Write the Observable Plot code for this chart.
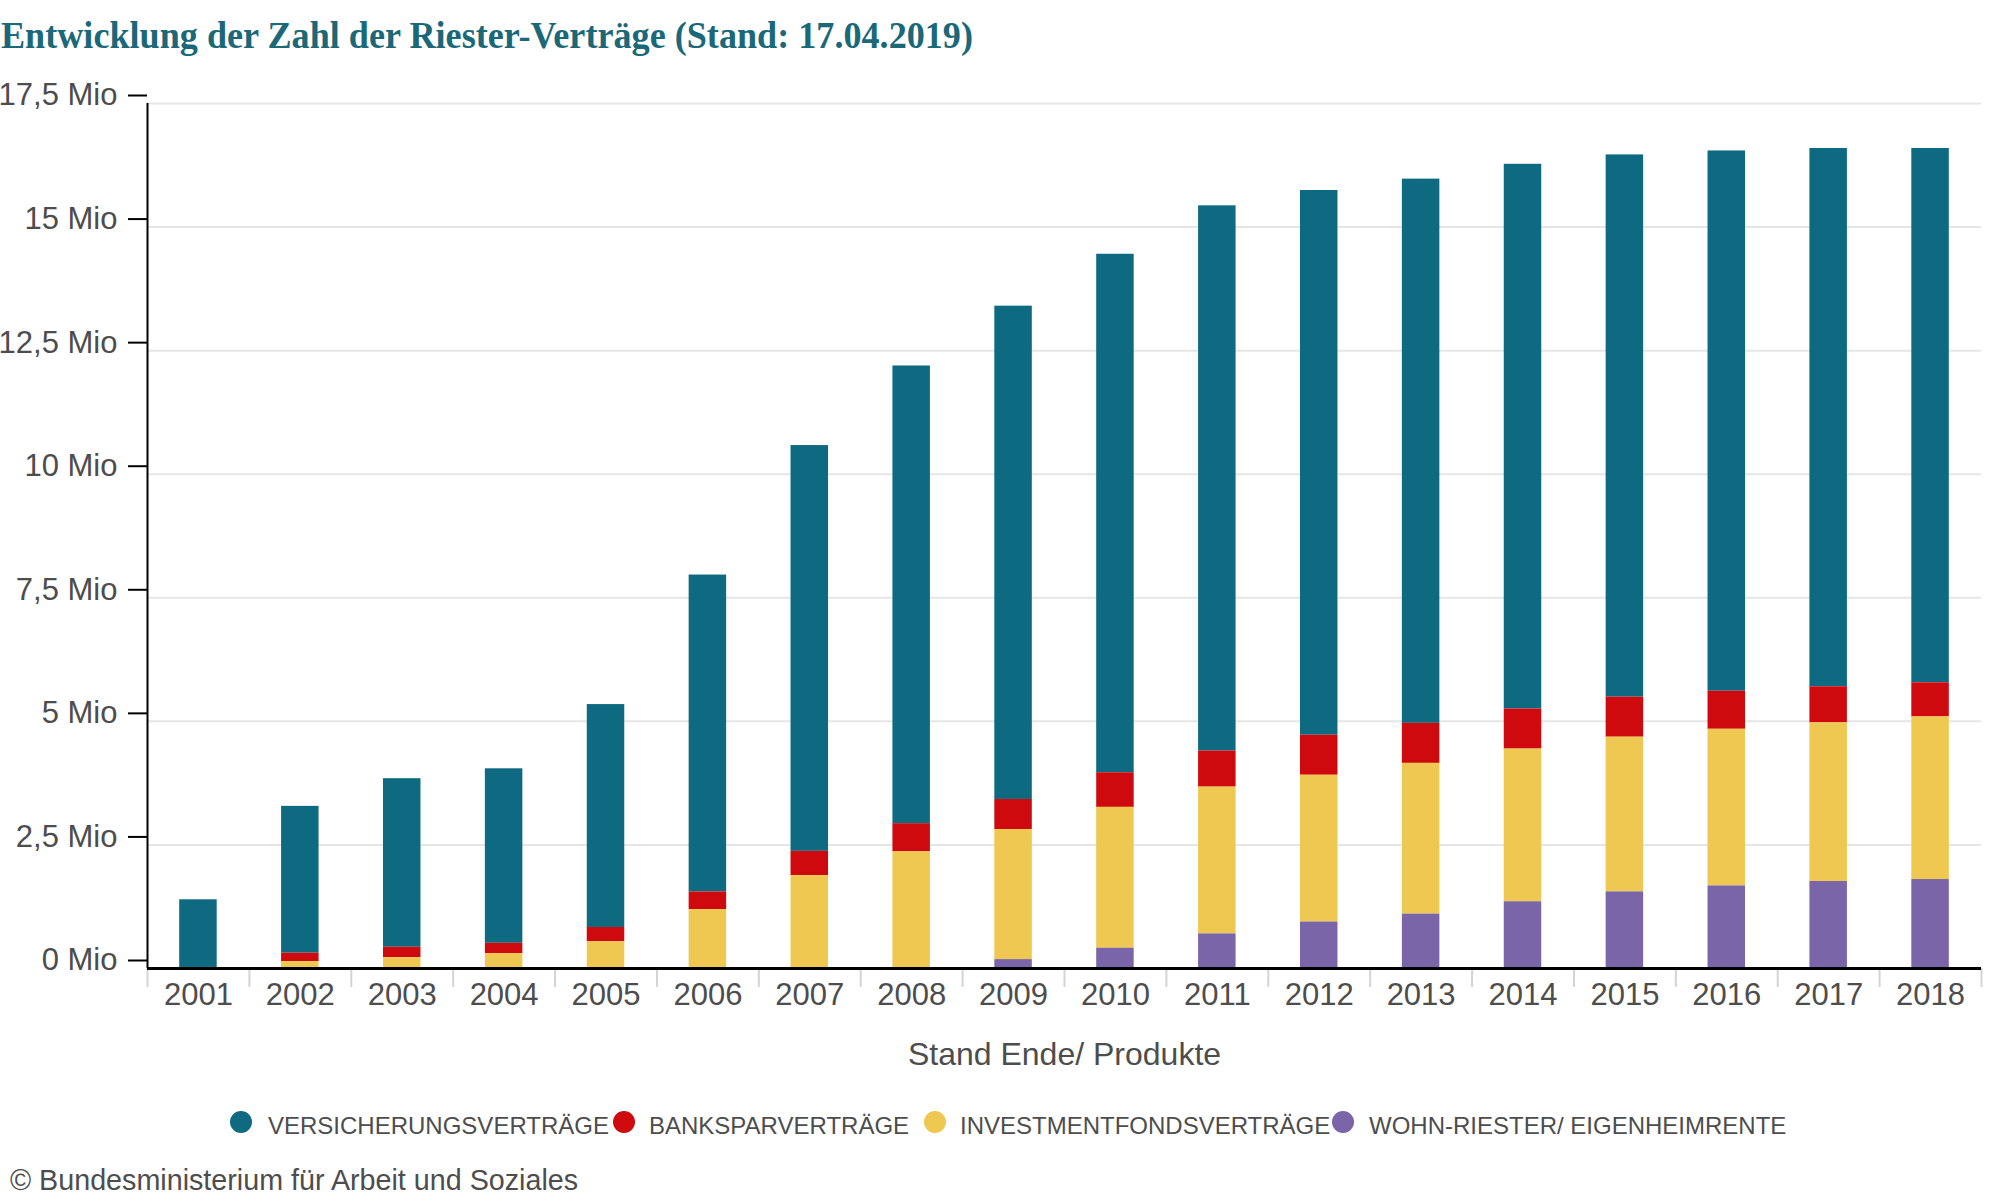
<!DOCTYPE html>
<html>
<head>
<meta charset="utf-8">
<script src="https://cdn.jsdelivr.net/npm/d3@7"></script>
<script src="https://cdn.jsdelivr.net/npm/@observablehq/plot@0.6"></script>
<style>
  body { margin: 0; background: #fff; }
  #wrap { position: relative; width: 2000px; height: 1200px; overflow: hidden; font-family: "Liberation Sans", Arial, sans-serif; color: #4d4d4d; }
  #title { position: absolute; left: 1px; top: 17px; font-family: "Liberation Serif", "Times New Roman", serif; font-weight: bold; font-size: 37px; line-height: 1; color: #1a6878; white-space: nowrap; transform-origin: left top; }
  #chart { position: absolute; left: 0; top: 0; }
  .lg { position: absolute; top: 1112px; height: 28px; display: flex; align-items: center; font-size: 24px; line-height: 28px; white-space: nowrap; }
  .lg .dot { width: 22px; height: 22px; border-radius: 50%; position: absolute; top: -1px; }
  .lg .txt { position: absolute; top: 0; }
  #caption { position: absolute; left: 10px; top: 1166px; font-size: 28.7px; line-height: 1; white-space: nowrap; }
</style>
</head>
<body>
<div id="wrap">
  <div id="chart"></div>
  <div id="title"></div>
  <div id="legend"></div>
  <div id="caption"></div>
</div>
<script>
// ---- data (Mio. Verträge) ----
const years = ["2001","2002","2003","2004","2005","2006","2007","2008","2009","2010","2011","2012","2013","2014","2015","2016","2017","2018"];
const seriesNames = ["VERSICHERUNGSVERTRÄGE", "BANKSPARVERTRÄGE", "INVESTMENTFONDSVERTRÄGE", "WOHN-RIESTER/ EIGENHEIMRENTE"];
const seriesColors = ["#0e6a80", "#cf0a0e", "#eec850", "#7a65a8"];
const versicherung = [1.39, 2.97, 3.41, 3.53, 4.51, 6.41, 8.21, 9.26, 9.98, 10.49, 11.03, 11.02, 11.01, 11.02, 10.97, 10.93, 10.89, 10.81];
const bankspar     = [0, 0.17, 0.21, 0.21, 0.29, 0.36, 0.49, 0.57, 0.61, 0.70, 0.73, 0.81, 0.81, 0.81, 0.81, 0.77, 0.73, 0.69];
const investment   = [0, 0.14, 0.22, 0.30, 0.54, 1.19, 1.88, 2.35, 2.63, 2.85, 2.97, 2.97, 3.05, 3.09, 3.13, 3.17, 3.21, 3.29];
const wohnriester  = [0, 0, 0, 0, 0, 0, 0, 0.01, 0.18, 0.41, 0.70, 0.94, 1.10, 1.35, 1.55, 1.67, 1.76, 1.80];
const yTicks = [0, 2.5, 5, 7.5, 10, 12.5, 15, 17.5];
const titleText = "Entwicklung der Zahl der Riester-Verträge (Stand: 17.04.2019)";
const xLabel = "Stand Ende/ Produkte";
const captionText = "© Bundesministerium für Arbeit und Soziales";

const seriesValues = [versicherung, bankspar, investment, wohnriester];
const rows = [];
seriesNames.forEach((s, k) => years.forEach((yr, i) => rows.push({year: yr, series: s, value: seriesValues[k][i]})));

// ---- layout ----
const W = 2000, H = 1100, ML = 147, MR = 19, MT = 103, MB = 132;
const step = (W - ML - MR) / years.length;
const textColor = "#4d4d4d";

const chart = Plot.plot({
  width: W, height: H,
  marginLeft: ML, marginRight: MR, marginTop: MT, marginBottom: MB,
  style: {fontFamily: "'Liberation Sans', Arial, sans-serif", background: "#fff", overflow: "visible"},
  x: {type: "band", domain: years, paddingInner: 0.632, paddingOuter: 0.316, round: false, label: null},
  y: {domain: [0, 17.5], label: null},
  color: {domain: seriesNames, range: seriesColors},
  marks: [
    Plot.gridY(yTicks, {stroke: "#e6e6e6", strokeOpacity: 1, strokeWidth: 2}),
    Plot.barY(rows, {x: "year", y: "value", fill: "series",
      order: ["WOHN-RIESTER/ EIGENHEIMRENTE", "INVESTMENTFONDSVERTRÄGE", "BANKSPARVERTRÄGE", "VERSICHERUNGSVERTRÄGE"]}),
    // category boundary ticks below the axis
    Plot.ruleX(years, {dx: -step / 2, y1: 0, y2: 0, insetBottom: -19, stroke: "#d4d4d4", strokeWidth: 2}),
    Plot.ruleX([years[years.length - 1]], {dx: step / 2, y1: 0, y2: 0, insetBottom: -19, stroke: "#d4d4d4", strokeWidth: 2}),
    // y axis line
    Plot.ruleX([years[0]], {dx: -step / 2, stroke: "#000", strokeWidth: 2}),
    Plot.ruleY([0], {stroke: "#000", strokeWidth: 3}),
    Plot.axisY({ticks: yTicks, tickFormat: d => d.toLocaleString("de-DE") + " Mio", tickSize: 19, tickPadding: 11,
      stroke: "#000", strokeWidth: 2, fill: textColor, fontSize: 31, dy: -8, label: null}),
    Plot.axisX({tickSize: 0, tickPadding: 14, fontSize: 31, fill: textColor, label: null}),
    Plot.text([xLabel], {frameAnchor: "bottom", dy: 96, fontSize: 32, fill: textColor})
  ]
});
document.getElementById("chart").appendChild(chart);

// ---- title ----
const t = document.getElementById("title");
t.textContent = titleText;
const tw = t.getBoundingClientRect().width;
t.style.transform = `scaleX(${972 / tw})`;

// ---- legend ----
const legendPos = [[230, 268], [613, 649], [924, 960], [1332, 1369]];
const lg = document.getElementById("legend");
seriesNames.forEach((s, i) => {
  const item = document.createElement("div");
  item.className = "lg";
  item.style.left = "0px";
  const dot = document.createElement("span");
  dot.className = "dot";
  dot.style.background = seriesColors[i];
  dot.style.left = legendPos[i][0] + "px";
  const txt = document.createElement("span");
  txt.className = "txt";
  txt.style.left = legendPos[i][1] + "px";
  txt.textContent = s;
  item.appendChild(dot);
  item.appendChild(txt);
  lg.appendChild(item);
});

document.getElementById("caption").textContent = captionText;
</script>
</body>
</html>
